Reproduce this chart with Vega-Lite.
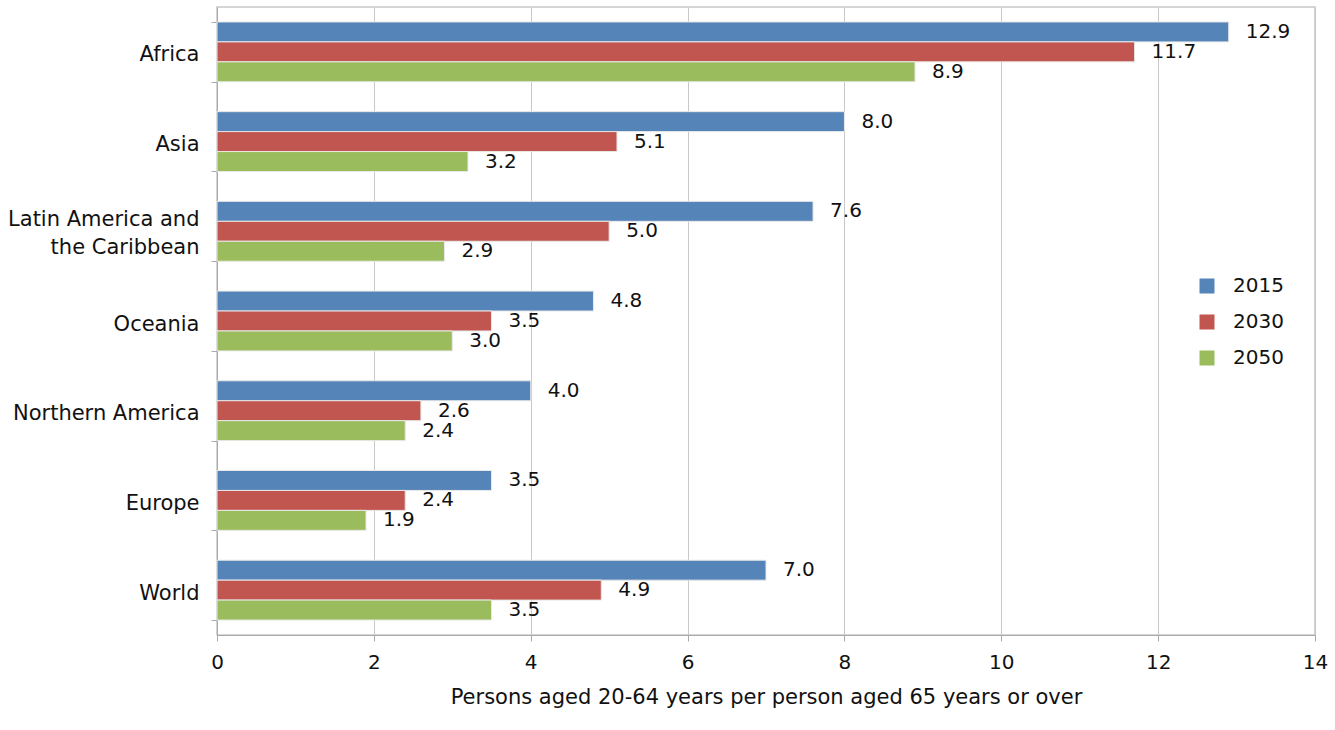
{
  "$schema": "https://vega.github.io/schema/vega-lite/v6.json",
  "width": 1098,
  "height": 628,
  "autosize": {"type": "none"},
  "padding": {"left": 217, "top": 7, "right": 20, "bottom": 95},
  "background": "white",
  "config": {
    "font": "DejaVu Sans",
    "view": {"stroke": "#c8c8c8", "strokeWidth": 1.5},
    "axis": {"labelColor": "#111", "titleColor": "#111", "domainColor": "#aaa", "tickColor": "#aaa", "gridColor": "#c8c8c8"}
  },
  "data": {
    "values": [
      {"region": "Africa", "year": "2015", "value": 12.9},
      {"region": "Africa", "year": "2030", "value": 11.7},
      {"region": "Africa", "year": "2050", "value": 8.9},
      {"region": "Asia", "year": "2015", "value": 8.0},
      {"region": "Asia", "year": "2030", "value": 5.1},
      {"region": "Asia", "year": "2050", "value": 3.2},
      {"region": "Latin America and the Caribbean", "year": "2015", "value": 7.6},
      {"region": "Latin America and the Caribbean", "year": "2030", "value": 5.0},
      {"region": "Latin America and the Caribbean", "year": "2050", "value": 2.9},
      {"region": "Oceania", "year": "2015", "value": 4.8},
      {"region": "Oceania", "year": "2030", "value": 3.5},
      {"region": "Oceania", "year": "2050", "value": 3.0},
      {"region": "Northern America", "year": "2015", "value": 4.0},
      {"region": "Northern America", "year": "2030", "value": 2.6},
      {"region": "Northern America", "year": "2050", "value": 2.4},
      {"region": "Europe", "year": "2015", "value": 3.5},
      {"region": "Europe", "year": "2030", "value": 2.4},
      {"region": "Europe", "year": "2050", "value": 1.9},
      {"region": "World", "year": "2015", "value": 7.0},
      {"region": "World", "year": "2030", "value": 4.9},
      {"region": "World", "year": "2050", "value": 3.5}
    ]
  },
  "encoding": {
    "y": {
      "field": "region",
      "type": "nominal",
      "sort": ["Africa", "Asia", "Latin America and the Caribbean", "Oceania", "Northern America", "Europe", "World"],
      "scale": {"paddingInner": 0.333, "paddingOuter": 0.1667},
      "axis": {
        "title": null,
        "tickBand": "extent",
        "tickSize": 6,
        "labelFontSize": 21,
        "labelPadding": 12,
        "labelLimit": 300,
        "labelLineHeight": 28,
        "labelOffset": {"expr": "datum.value == 'Latin America and the Caribbean' ? -12 : 3"},
        "labelExpr": "datum.value == 'Latin America and the Caribbean' ? ['Latin America and', 'the Caribbean'] : datum.value"
      }
    },
    "yOffset": {"field": "year", "type": "nominal", "sort": ["2015", "2030", "2050"]},
    "x": {
      "field": "value",
      "type": "quantitative",
      "scale": {"domain": [0, 14], "nice": false},
      "axis": {
        "title": "Persons aged 20-64 years per person aged 65 years or over",
        "titleFontSize": 21,
        "titleFontWeight": "normal",
        "titlePadding": 14,
        "labelFontSize": 20,
        "labelPadding": 11,
        "labelFlush": false,
        "tickSize": 6,
        "values": [0, 2, 4, 6, 8, 10, 12, 14],
        "grid": true
      }
    }
  },
  "layer": [
    {
      "mark": {"type": "bar", "stroke": "#e8e8e8", "strokeWidth": 1},
      "encoding": {
        "color": {
          "field": "year",
          "type": "nominal",
          "scale": {"domain": ["2015", "2030", "2050"], "range": ["#5584B8", "#C0564F", "#9BBC5C"]},
          "legend": {
            "title": null,
            "orient": "none",
            "legendX": 980,
            "legendY": 269,
            "symbolType": "square",
            "symbolSize": 225,
            "symbolStrokeWidth": 0,
            "labelFontSize": 20,
            "labelColor": "#111",
            "labelOffset": 16,
            "rowPadding": 16
          }
        }
      }
    },
    {
      "mark": {"type": "text", "align": "left", "dx": 17, "fontSize": 20, "color": "#111"},
      "encoding": {
        "text": {"field": "value", "type": "quantitative", "format": ".1f"}
      }
    }
  ]
}
